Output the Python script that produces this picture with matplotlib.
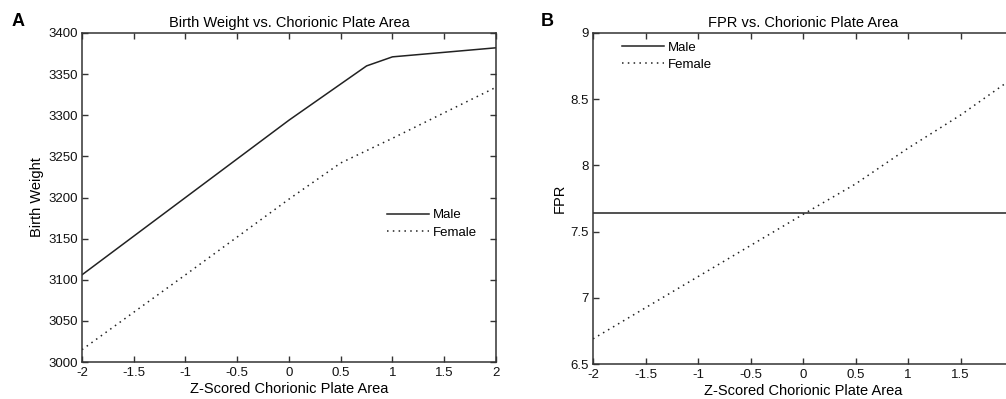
import numpy as np
import matplotlib
matplotlib.use("Agg")
import matplotlib.pyplot as plt

plt.rcParams['font.family'] = ['Liberation Sans', 'DejaVu Sans']

# panel A: birth weight
z_a = [-2, -1, 0, 0.5, 0.75, 1, 2]
bw_male = [3106, 3200, 3294, 3338, 3360, 3371, 3382]
z_af = [-2, -1, 0, 0.5, 1, 2]
bw_female = [3015, 3106, 3198, 3242, 3272, 3334]

# panel B: FPR
z_b = [-2, -1, 0, 0.5, 1, 1.5, 2]
fpr_male = [7.64, 7.64, 7.64, 7.64, 7.64, 7.64, 7.64]
fpr_female = [6.69, 7.16, 7.63, 7.86, 8.13, 8.38, 8.66]

xticks = [-2, -1.5, -1, -0.5, 0, 0.5, 1, 1.5, 2]
xticklabels = ['-2', '-1.5', '-1', '-0.5', '0', '0.5', '1', '1.5', '2']

ink = '#222222'
dots = (0, (1, 2.8))

fig = plt.figure(figsize=(10.06, 3.99), dpi=100)
axA = fig.add_axes([0.0815, 0.0927, 0.4115, 0.8246])
axB = fig.add_axes([0.5895, 0.0877, 0.4175, 0.8296])


def style(ax, xlabels):
    ax.set_xlim(-2, 2)
    ax.set_xticks(xticks)
    ax.set_xticklabels(xlabels)
    for s in ax.spines.values():
        s.set_color('#333333')
        s.set_linewidth(1.1)
    ax.tick_params(direction='in', length=4, width=1, colors='#333333',
                   labelcolor='#111111', labelsize=9.5, top=True, right=True)
    ax.tick_params(axis='x', pad=3.5)
    ax.tick_params(axis='y', pad=3)
    ax.set_xlabel('Z-Scored Chorionic Plate Area', fontsize=10.5, labelpad=2.5)


axA.plot(z_a, bw_male, color=ink, lw=1.1, label='Male')
axA.plot(z_af, bw_female, color=ink, lw=1.1, linestyle=dots, label='Female')
style(axA, xticklabels)
axA.set_ylim(3000, 3400)
axA.set_yticks(np.arange(3000, 3401, 50))
axA.set_ylabel('Birth Weight', fontsize=10.5, labelpad=3)
axA.set_title('Birth Weight vs. Chorionic Plate Area', fontsize=10.5, pad=4)
axA.legend(loc='upper left', bbox_to_anchor=(0.737, 0.465), frameon=False,
           fontsize=9.5, handlelength=3.2, handletextpad=0.3, labelspacing=0.4,
           borderpad=0, borderaxespad=0)

axB.plot(z_b, fpr_male, color=ink, lw=1.1, label='Male')
axB.plot(z_b, fpr_female, color=ink, lw=1.1, linestyle=dots, label='Female')
# the last tick label falls outside the cropped figure in the reference
style(axB, xticklabels[:-1] + [''])
axB.set_ylim(6.5, 9)
axB.set_yticks([6.5, 7, 7.5, 8, 8.5, 9])
axB.set_yticklabels(['6.5', '7', '7.5', '8', '8.5', '9'])
axB.set_ylabel('FPR', fontsize=10.5, labelpad=3)
axB.set_title('FPR vs. Chorionic Plate Area', fontsize=10.5, pad=4)
axB.legend(loc='upper left', bbox_to_anchor=(0.069, 0.975), frameon=False,
           fontsize=9.5, handlelength=3.2, handletextpad=0.3, labelspacing=0.4,
           borderpad=0, borderaxespad=0)

fig.text(0.018, 0.945, 'A', fontsize=13, fontweight='bold', ha='center', va='center')
fig.text(0.544, 0.945, 'B', fontsize=13, fontweight='bold', ha='center', va='center')

fig.savefig('out.png', dpi=100)
